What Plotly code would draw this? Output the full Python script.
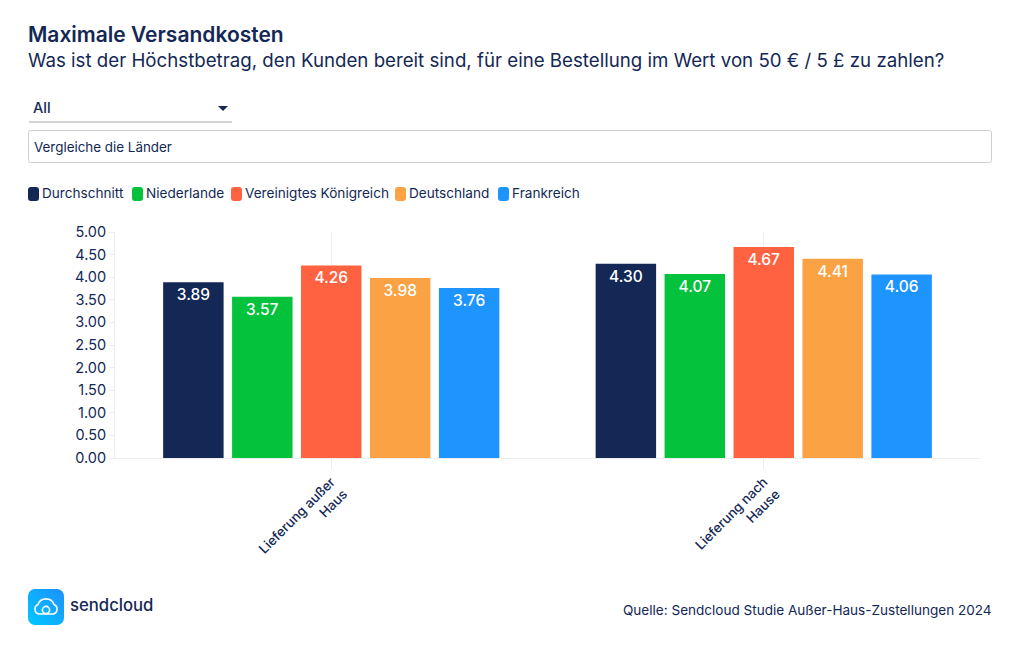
import plotly.graph_objects as go

categories = ["Lieferung außer<br>Haus", "Lieferung nach<br>Hause"]
series_names = ["Durchschnitt", "Niederlande", "Vereinigtes Königreich", "Deutschland", "Frankreich"]
durchschnitt = [3.89, 4.30]
niederlande = [3.57, 4.07]
vereinigtes_koenigreich = [4.26, 4.67]
deutschland = [3.98, 4.41]
frankreich = [3.76, 4.06]
series_values = [durchschnitt, niederlande, vereinigtes_koenigreich, deutschland, frankreich]
colors = ["#132855", "#04C23C", "#FF6240", "#FBA244", "#1E94FF"]
legend_swatch_x = [28, 132, 231, 395, 498]

W, H = 1020, 650
L, R, T, B = 115, 40, 232, 192
INK = "#132855"
FONT = "Inter"


def px(x):
    return (x - L) / (W - L - R)


def py(y):
    return 1 - (y - T) / (H - T - B)


def label(x, y, text, size, anchor="left", color=INK, weight=None):
    font = dict(family=FONT, size=size, color=color)
    if weight:
        font["weight"] = weight
    return dict(xref="paper", yref="paper", x=px(x), y=py(y), text=text, showarrow=False,
                xanchor=anchor, yanchor="middle", font=font, align=anchor,
                xshift=-2 if anchor == "left" else 2)


def rrect(x0, y0, x1, y1, r):
    a, b, c, d = px(x0), py(y0), px(x1), py(y1)
    rx, ry = r / (W - L - R), r / (H - T - B)
    return (f"M{a+rx},{b} L{c-rx},{b} Q{c},{b} {c},{b-ry} L{c},{d+ry} Q{c},{d} {c-rx},{d} "
            f"L{a+rx},{d} Q{a},{d} {a},{d+ry} L{a},{b-ry} Q{a},{b} {a+rx},{b} Z")


fig = go.Figure()
for name, vals, col in zip(series_names, series_values, colors):
    fig.add_trace(go.Bar(
        name=name, x=categories, y=vals, marker=dict(color=col, line=dict(width=0)),
        texttemplate="%{y:.2f}", textposition="inside", insidetextanchor="end",
        textangle=0, constraintext="none",
        insidetextfont=dict(family=FONT, size=15.5, color="#ffffff", weight=500),
    ))

annotations = [
    label(28, 34, "Maximale Versandkosten", 21, weight=600),
    label(28, 60, "Was ist der Höchstbetrag, den Kunden bereit sind, für eine Bestellung im Wert von 50 € / 5 £ zu zahlen?", 18.7),
    label(33, 107.5, "All", 14.5, weight=500),
    label(34, 147, "Vergleiche die Länder", 13.4),
    label(70, 605, "sendcloud", 16.7, weight=500),
    label(992, 610, "Quelle: Sendcloud Studie Außer-Haus-Zustellungen 2024", 13.55, anchor="right"),
]
shapes = [
    dict(type="line", xref="paper", yref="paper", x0=px(29), x1=px(232), y0=py(122), y1=py(122),
         line=dict(color="#c4c4c4", width=1.5)),
    dict(type="path", xref="paper", yref="paper",
         path=f"M{px(218)},{py(106)} L{px(228)},{py(106)} L{px(223)},{py(111)} Z",
         fillcolor=INK, line=dict(width=0)),
    dict(type="path", xref="paper", yref="paper", path=rrect(28.5, 130.5, 991.5, 162.5, 2),
         line=dict(color="#cfcfcf", width=1), fillcolor="#ffffff"),
]
for sx, name, col in zip(legend_swatch_x, series_names, colors):
    shapes.append(dict(type="path", xref="paper", yref="paper", path=rrect(sx, 187, sx + 11, 201, 3),
                       fillcolor=col, line=dict(width=0)))
    annotations.append(label(sx + 13.5, 193.5, name, 13.6))

logo = ("data:image/svg+xml;utf8,"
        "<svg xmlns='http://www.w3.org/2000/svg' viewBox='0 0 36 36'>"
        "<defs><linearGradient id='g' x1='0' y1='1' x2='1' y2='0'>"
        "<stop offset='0' stop-color='%2300C8FF'/><stop offset='1' stop-color='%231E90FF'/>"
        "</linearGradient></defs><rect width='36' height='36' rx='7' fill='url(%23g)'/>"
        "<path d='M11 25 a5 5 0 0 1 -1 -9.5 a8.5 8.5 0 0 1 16 0 a5 5 0 0 1 -1 9.5 Z' fill='none' stroke='white' stroke-width='1.6'/>"
        "<circle cx='18' cy='21' r='3.6' fill='none' stroke='white' stroke-width='1.6'/></svg>")

fig.update_layout(
    width=W, height=H, autosize=False,
    margin=dict(l=L, r=R, t=T, b=B, pad=0),
    paper_bgcolor="#ffffff", plot_bgcolor="#ffffff",
    showlegend=False, barmode="group", bargap=0.203, bargroupgap=0.123,
    font=dict(family=FONT, color=INK),
    annotations=annotations, shapes=shapes,
    images=[dict(source=logo, xref="paper", yref="paper", x=px(28), y=py(589), sizex=36 / (W - L - R),
                 sizey=36 / (H - T - B), xanchor="left", yanchor="top", sizing="stretch", layer="above")],
)
fig.update_xaxes(type="category", tickangle=-45, showgrid=True, gridcolor="#eeeeee", gridwidth=1,
                 showline=True, linecolor="#eeeeee", ticks="outside", ticklen=10, tickcolor="#eeeeee",
                 tickfont=dict(family=FONT, size=13.3, color=INK, weight=500), automargin=False)
fig.update_yaxes(range=[0, 5], tick0=0, dtick=0.5, tickformat=".2f", showgrid=False, showline=True,
                 linecolor="#eeeeee", ticks="outside", ticklen=5, tickcolor="#eeeeee", zeroline=False,
                 tickfont=dict(family=FONT, size=14.5, color=INK), automargin=False)

fig.write_html("out.html", config=dict(displayModeBar=False),
               post_script="document.body.style.margin='0';document.body.style.overflow='hidden';")
